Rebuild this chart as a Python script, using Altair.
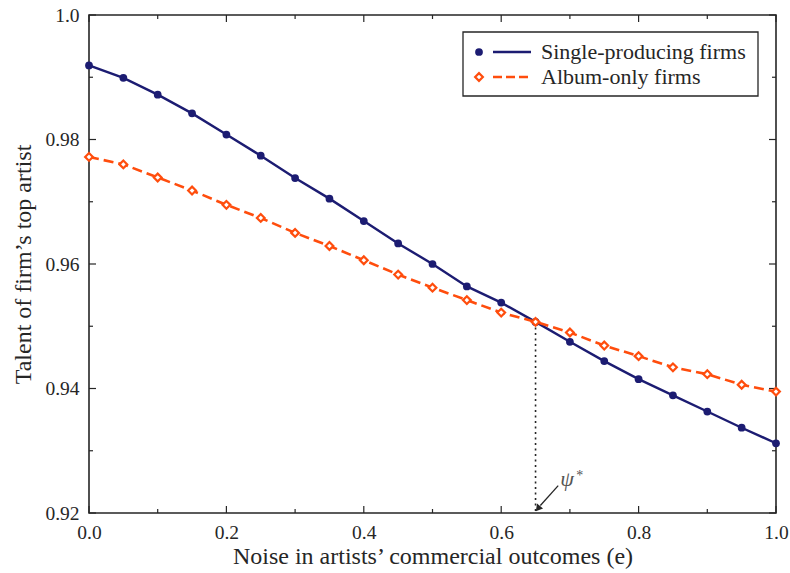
import altair as alt
import pandas as pd

# Noise levels and the talent of each firm type's top artist
noise = [0.00, 0.05, 0.10, 0.15, 0.20, 0.25, 0.30, 0.35, 0.40, 0.45, 0.50,
         0.55, 0.60, 0.65, 0.70, 0.75, 0.80, 0.85, 0.90, 0.95, 1.00]
single_firms = [0.9919, 0.9899, 0.9872, 0.9842, 0.9808, 0.9774, 0.9738, 0.9705,
                0.9669, 0.9633, 0.9600, 0.9564, 0.9538, 0.9507, 0.9475, 0.9444,
                0.9415, 0.9389, 0.9363, 0.9337, 0.9312]
album_firms = [0.9772, 0.9760, 0.9739, 0.9718, 0.9695, 0.9674, 0.9650, 0.9629,
               0.9606, 0.9583, 0.9562, 0.9542, 0.9522, 0.9507, 0.9490, 0.9469,
               0.9452, 0.9434, 0.9423, 0.9406, 0.9395]

series_names = ["Single-producing firms", "Album-only firms"]

# threshold where the two curves cross
psi_star = 0.65
psi_value = 0.9507

x_major = [0.0, 0.2, 0.4, 0.6, 0.8, 1.0]
x_minor = [0.1, 0.3, 0.5, 0.7, 0.9]
y_major = [0.92, 0.94, 0.96, 0.98, 1.0]
y_minor = [0.93, 0.95, 0.97, 0.99]

W, H = 687, 498
FONT = "Liberation Serif"
NAVY = "#1c1c72"
ORANGE = "#ff4d0d"
INK = "#262626"

xs = alt.Scale(domain=[0, 1], nice=False, zero=False)
ys = alt.Scale(domain=[0.92, 1.0], nice=False, zero=False)

single_df = pd.DataFrame({"e": noise, "talent": single_firms})
album_df = pd.DataFrame({"e": noise, "talent": album_firms})

x_axis = alt.Axis(values=x_major, format=".1f", ticks=False, domain=False, grid=False,
                  labelFlush=False, labelOverlap=False,
                  labelFont=FONT, labelFontSize=19.5, labelColor=INK, labelPadding=10,
                  title="Noise in artists’ commercial outcomes (e)",
                  titleFont=FONT, titleFontSize=24, titleFontWeight="normal",
                  titleColor=INK, titlePadding=3)
y_axis = alt.Axis(values=y_major, labelExpr="datum.value == 1 ? '1.0' : format(datum.value, '.2f')",
                  ticks=False, domain=False, grid=False, labelFlush=False, labelOverlap=False,
                  labelFont=FONT, labelFontSize=19.5, labelColor=INK, labelPadding=10,
                  title="Talent of firm’s top artist",
                  titleFont=FONT, titleFontSize=24, titleFontWeight="normal",
                  titleColor=INK, titlePadding=9)

base_single = alt.Chart(single_df)
base_album = alt.Chart(album_df)

single_line = base_single.mark_line(color=NAVY, strokeWidth=2.4).encode(
    x=alt.X("e:Q", scale=xs, axis=x_axis),
    y=alt.Y("talent:Q", scale=ys, axis=y_axis),
)
single_pts = base_single.mark_point(shape="circle", filled=True, color=NAVY, size=60, opacity=1).encode(
    x=alt.X("e:Q", scale=xs), y=alt.Y("talent:Q", scale=ys))

album_line = base_album.mark_line(color=ORANGE, strokeWidth=2.6, strokeDash=[10, 5]).encode(
    x=alt.X("e:Q", scale=xs), y=alt.Y("talent:Q", scale=ys))
album_pts = base_album.mark_point(shape="diamond", filled=True, fill="white", stroke=ORANGE,
                                  strokeWidth=2.2, size=60, opacity=1).encode(
    x=alt.X("e:Q", scale=xs), y=alt.Y("talent:Q", scale=ys))

# dotted drop line at the crossing point
drop_df = pd.DataFrame({"e": [psi_star], "top": [psi_value], "bottom": [0.92]})
drop = alt.Chart(drop_df).mark_rule(color=INK, strokeDash=[2, 3.5], strokeWidth=1.6).encode(
    x=alt.X("e:Q", scale=xs), y=alt.Y("top:Q", scale=ys), y2="bottom:Q")

# arrow pointing at psi*
arrow_df = pd.DataFrame({"x0": [0.683], "y0": [0.9244], "x1": [0.657], "y1": [0.9212]})
arrow_shaft = alt.Chart(arrow_df).mark_rule(color=INK, strokeWidth=1.3).encode(
    x=alt.X("x0:Q", scale=xs), y=alt.Y("y0:Q", scale=ys), x2="x1:Q", y2="y1:Q")
head_df = pd.DataFrame({"x": [0.6545], "y": [0.92085]})
arrow_head = alt.Chart(head_df).mark_point(shape="triangle", filled=True, color=INK, size=60,
                                           angle=219, opacity=1).encode(
    x=alt.X("x:Q", scale=xs), y=alt.Y("y:Q", scale=ys))

psi_df = pd.DataFrame({"x": [0.686], "y": [0.9243]})
psi_label = alt.Chart(psi_df).mark_text(text="ψ", font=FONT, fontSize=22, fontStyle="italic",
                                        color="#555555", align="left", baseline="alphabetic").encode(
    x=alt.X("x:Q", scale=xs), y=alt.Y("y:Q", scale=ys))
star_label = alt.Chart(psi_df).mark_text(text="*", font=FONT, fontSize=14, color="#555555",
                                         align="left", baseline="alphabetic", dx=16, dy=-6).encode(
    x=alt.X("x:Q", scale=xs), y=alt.Y("y:Q", scale=ys))

# inward tick marks on all four sides
def x_ticks(vals, length):
    d = pd.DataFrame({"v": vals})
    bottom = alt.Chart(d).mark_rule(color=INK, strokeWidth=1.2).encode(
        x=alt.X("v:Q", scale=xs), y=alt.value(H), y2=alt.value(H - length))
    top = alt.Chart(d).mark_rule(color=INK, strokeWidth=1.2).encode(
        x=alt.X("v:Q", scale=xs), y=alt.value(0), y2=alt.value(length))
    return bottom + top

def y_ticks(vals, length):
    d = pd.DataFrame({"v": vals})
    left = alt.Chart(d).mark_rule(color=INK, strokeWidth=1.2).encode(
        y=alt.Y("v:Q", scale=ys), x=alt.value(0), x2=alt.value(length))
    right = alt.Chart(d).mark_rule(color=INK, strokeWidth=1.2).encode(
        y=alt.Y("v:Q", scale=ys), x=alt.value(W), x2=alt.value(W - length))
    return left + right

ticks = x_ticks(x_major, 7) + x_ticks(x_minor, 4) + y_ticks(y_major, 7) + y_ticks(y_minor, 4)

# legend box drawn from marks
lx0, lx1, ly0, ly1 = 374, 669, 17, 81
legend_box = alt.Chart(pd.DataFrame({"k": [0]})).mark_rect(
    fill="white", stroke=INK, strokeWidth=1.3).encode(
    x=alt.value(lx0), x2=alt.value(lx1), y=alt.value(ly0), y2=alt.value(ly1))

leg_df = pd.DataFrame({"name": series_names})
row_y = [37, 62]
leg_single_pt = alt.Chart(leg_df.iloc[[0]]).mark_point(shape="circle", filled=True, color=NAVY,
                                                       size=60, opacity=1).encode(
    x=alt.value(390), y=alt.value(row_y[0]))
leg_single_ln = alt.Chart(leg_df.iloc[[0]]).mark_rule(color=NAVY, strokeWidth=2.4).encode(
    x=alt.value(404), x2=alt.value(442), y=alt.value(row_y[0]))
leg_album_pt = alt.Chart(leg_df.iloc[[1]]).mark_point(shape="diamond", filled=True, fill="white",
                                                      stroke=ORANGE, strokeWidth=2.2, size=60,
                                                      opacity=1).encode(
    x=alt.value(390), y=alt.value(row_y[1]))
leg_album_ln = alt.Chart(leg_df.iloc[[1]]).mark_rule(color=ORANGE, strokeWidth=2.6,
                                                     strokeDash=[9, 4]).encode(
    x=alt.value(404), x2=alt.value(442), y=alt.value(row_y[1]))
leg_text1 = alt.Chart(leg_df.iloc[[0]]).mark_text(font=FONT, fontSize=22, color=INK, align="left",
                                                  baseline="middle").encode(
    x=alt.value(452), y=alt.value(row_y[0]), text="name:N")
leg_text2 = alt.Chart(leg_df.iloc[[1]]).mark_text(font=FONT, fontSize=22, color=INK, align="left",
                                                  baseline="middle").encode(
    x=alt.value(452), y=alt.value(row_y[1]), text="name:N")

legend = legend_box + leg_single_ln + leg_single_pt + leg_album_ln + leg_album_pt + leg_text1 + leg_text2

chart = alt.layer(
    single_line, ticks, drop, album_line, single_pts, album_pts,
    arrow_shaft, arrow_head, psi_label, star_label, legend
).properties(
    width=W, height=H,
    autosize=alt.AutoSizeParams(type="none"),
    padding={"left": 89, "top": 15, "right": 14, "bottom": 60},
    background="white",
).configure_view(
    stroke=INK, strokeWidth=1.6
)

chart.save("out.html", embed_options={"renderer": "svg", "actions": False})
